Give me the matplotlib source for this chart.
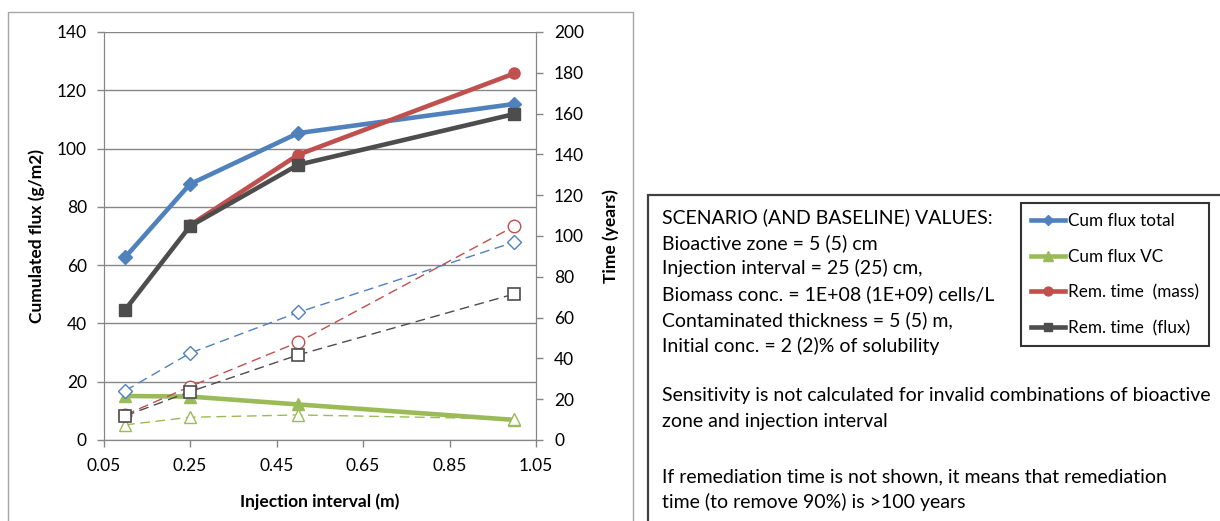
import numpy as np
import matplotlib.pyplot as plt
from matplotlib.patches import Rectangle

plt.rcParams['font.family'] = ['Lato', 'DejaVu Sans']

# Данные (читаем с картинки)
interval = [0.1, 0.25, 0.5, 1.0]

flux_total = [62.7, 87.8, 105.3, 115.3]
flux_vc = [15.1, 14.9, 12.2, 6.9]
rem_mass = [np.nan, 105.3, 139.8, 179.7]
rem_flux = [63.8, 104.8, 134.9, 159.8]

# базовый сценарий (пунктир)
base_flux_total = [16.9, 29.8, 43.8, 67.9]
base_flux_vc = [5.2, 7.8, 8.6, 7.2]
base_rem_mass = [12.3, 26.2, 47.9, 104.8]
base_rem_flux = [11.8, 23.7, 41.7, 71.6]

legend_labels = ['Cum flux total', 'Cum flux VC', 'Rem. time  (mass)', 'Rem. time  (flux)']

blue = '#4F81BD'
green = '#9BBB59'
red = '#C0504D'
dark = '#4D4D4D'
axcol = '#868686'

W, H = 1220, 521
fig = plt.figure(figsize=(W / 100, H / 100), dpi=100)

# рамки вокруг графика и текстового блока
fig.patches.append(Rectangle((8 / W, -0.1), (632.7 - 8) / W, 1.1 - 12 / H,
                             transform=fig.transFigure, fill=False,
                             edgecolor='#A6A6A6', lw=1))
fig.patches.append(Rectangle((648 / W, -0.1), 1.0, 1.1 - 195 / H,
                             transform=fig.transFigure, fill=False,
                             edgecolor='#404040', lw=1.6))

ax = fig.add_axes([103.5 / W, (H - 440) / H, 432.5 / W, 408 / H])
ax2 = ax.twinx()

lw_solid = 3.3
lw_dash = 1.0
dash = (0, (7, 4))

h1, = ax.plot(interval, flux_total, color=blue, lw=lw_solid, marker='D', ms=7,
              label=legend_labels[0])
h2, = ax.plot(interval, flux_vc, color=green, lw=lw_solid, marker='^', ms=9,
              label=legend_labels[1])
ax.plot(interval, base_flux_total, color=blue, lw=lw_dash, ls=dash, marker='D', ms=7,
        mfc='white', mec=blue, mew=1)
ax.plot(interval, base_flux_vc, color=green, lw=lw_dash, ls=dash, marker='^', ms=9,
        mfc='white', mec=green, mew=1)

h3, = ax2.plot(interval, rem_mass, color=red, lw=lw_solid, marker='o', ms=8,
               label=legend_labels[2])
h4, = ax2.plot(interval, rem_flux, color=dark, lw=lw_solid, marker='s', ms=8,
               label=legend_labels[3])
ax2.plot(interval, base_rem_mass, color=red, lw=lw_dash, ls=dash, marker='o', ms=9,
         mfc='white', mec=red, mew=1)
ax2.plot(interval, base_rem_flux, color=dark, lw=lw_dash, ls=dash, marker='s', ms=9,
         mfc='white', mec=dark, mew=1.2)

ax.set_xlim(0.05, 1.05)
ax.set_ylim(0, 140)
ax2.set_ylim(0, 200)
ax.set_xticks(np.arange(0.05, 1.06, 0.2))
ax.set_xticklabels(['0.05', '0.25', '0.45', '0.65', '0.85', '1.05'])
ax.set_yticks(np.arange(0, 141, 20))
ax2.set_yticks(np.arange(0, 201, 20))

ax.grid(axis='y', color=axcol, lw=1)
ax.set_axisbelow(True)
for a in (ax, ax2):
    for s in a.spines.values():
        s.set_color(axcol)
    a.spines['top'].set_visible(False)
    a.tick_params(colors=axcol, labelcolor='black', labelsize=12.5, length=5, width=1)
ax.tick_params(axis='y', pad=7)
ax.tick_params(axis='x', pad=8)
ax2.tick_params(axis='y', pad=8)

ax.set_xlabel('Injection interval (m)', fontsize=12.5, fontweight='bold')
ax.set_ylabel('Cumulated flux (g/m2)', fontsize=12.5, fontweight='bold')
ax2.set_ylabel('Time (years)', fontsize=12.5, fontweight='bold', rotation=90)
ax.xaxis.set_label_coords(0.5, (440 - 493) / 408)
ax.yaxis.set_label_coords((45 - 103.5) / 432.5, 0.5)
ax2.yaxis.set_label_coords((602 - 103.5) / 432.5, 0.5)

# текст со значениями сценария
lines = [
    (217, 'SCENARIO (AND BASELINE) VALUES:'),
    (243, 'Bioactive zone = 5 (5) cm'),
    (268, 'Injection interval = 25 (25) cm,'),
    (294, 'Biomass conc. = 1E+08 (1E+09) cells/L'),
    (320, 'Contaminated thickness = 5 (5) m,'),
    (346, 'Initial conc. = 2 (2)% of solubility'),
    (396, 'Sensitivity is not calculated for invalid combinations of bioactive'),
    (422, 'zone and injection interval'),
    (477, 'If remediation time is not shown, it means that remediation'),
    (502, 'time (to remove 90%) is >100 years'),
]
for y, s in lines:
    fig.text(662 / W, 1 - y / H, s, fontsize=14, va='center', ha='left')

leg = fig.legend(handles=[h1, h2, h3, h4], loc='upper left',
                 bbox_to_anchor=(1020.7 / W, 1 - 202.7 / H), bbox_transform=fig.transFigure,
                 fontsize=12.3, frameon=True, fancybox=False, edgecolor='black',
                 borderaxespad=0, borderpad=0.6, labelspacing=1.15, handlelength=2.0,
                 handletextpad=0.15, markerscale=0.8)
leg.get_frame().set_linewidth(1.5)

fig.savefig('out.png', dpi=100)
